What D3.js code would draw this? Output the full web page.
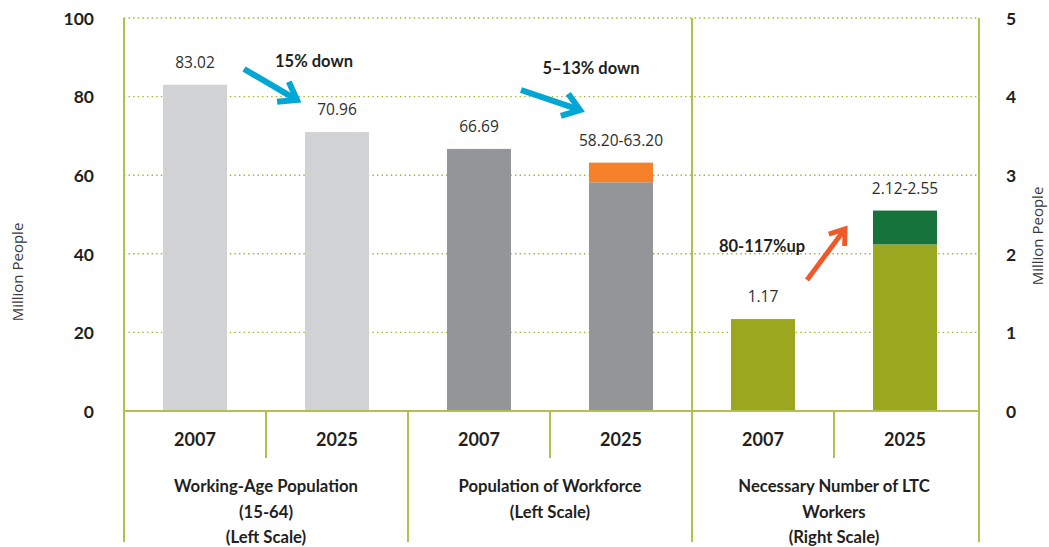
<!DOCTYPE html>
<html>
<head>
<meta charset="utf-8">
<script src="https://cdn.jsdelivr.net/npm/d3@7"></script>
<style>
  html, body { margin: 0; padding: 0; background: #fff; }
  svg { display: block; }
  text { font-family: Lato, "Open Sans", sans-serif; fill: #231f20; }
</style>
</head>
<body>
<svg id="chart" width="1049" height="547"></svg>
<script>
// Groups and the two years shown in each
const groups = [
  ["Working-Age Population", "(15-64)", "(Left Scale)"],
  ["Population of Workforce", "(Left Scale)"],
  ["Necessary Number of LTC", "Workers", "(Right Scale)"]
];
const years = ["2007", "2025"];

// Bar values (millions). Left-scale groups use 0–100, LTC workers use 0–5.
const workingAge = [83.02, 70.96];
const workforceLow = [66.69, 58.20];
const workforceHigh = [66.69, 63.20];
const ltcLow = [1.17, 2.12];
const ltcHigh = [1.17, 2.55];

const valueLabels = ["83.02", "70.96", "66.69", "58.20-63.20", "1.17", "2.12-2.55"];
const leftTicks = [0, 20, 40, 60, 80, 100];
const rightTicks = [0, 1, 2, 3, 4, 5];
const changeNotes = ["15% down", "5–13% down", "80-117%up"];

const svg = d3.select("#chart");
const yTop = 18, base = 411, yBottom = 542;
const xLeft = 124, xRight = 979;

const yL = d3.scaleLinear().domain([0, 100]).range([base, yTop]);
const yR = d3.scaleLinear().domain([0, 5]).range([base, yTop]);

const slots = d3.range(6);
const x = d3.scaleBand().domain(slots).range([xLeft, 976]).paddingInner(0).paddingOuter(0);
const barW = 64;
const cx = i => x(i) + x.bandwidth() / 2;

const gridColor = "#a3b32c";
const lineColor = "#b3c050";
const lightFont = "'Open Sans', 'Noto Sans', sans-serif";

// dotted gridlines
svg.append("g").selectAll("line").data(leftTicks.slice(1)).join("line")
  .attr("x1", xLeft).attr("x2", xRight)
  .attr("y1", d => yL(d)).attr("y2", d => yL(d))
  .attr("stroke", gridColor).attr("stroke-width", 1.4)
  .attr("stroke-dasharray", "1.4,3.2");

// bars
const bars = [];
workingAge.forEach((v, i) => bars.push({ slot: i, y0: 0, y1: v, s: yL, c: "#d1d2d4" }));
workforceLow.forEach((v, i) => bars.push({ slot: 2 + i, y0: 0, y1: v, s: yL, c: "#939598" }));
workforceHigh.forEach((v, i) => { if (v > workforceLow[i]) bars.push({ slot: 2 + i, y0: workforceLow[i], y1: v, s: yL, c: "#f5822a" }); });
ltcLow.forEach((v, i) => bars.push({ slot: 4 + i, y0: 0, y1: v, s: yR, c: "#9ba71f" }));
ltcHigh.forEach((v, i) => { if (v > ltcLow[i]) bars.push({ slot: 4 + i, y0: ltcLow[i], y1: v, s: yR, c: "#17733c" }); });

svg.append("g").selectAll("rect").data(bars).join("rect")
  .attr("x", d => cx(d.slot) - barW / 2)
  .attr("width", barW)
  .attr("y", d => d.s(d.y1))
  .attr("height", d => d.s(d.y0) - d.s(d.y1))
  .attr("fill", d => d.c);

// frame lines
const frame = svg.append("g").attr("stroke", lineColor).attr("stroke-width", 2);
frame.append("line").attr("x1", xLeft).attr("x2", xRight).attr("y1", base).attr("y2", base);
frame.append("line").attr("x1", xLeft).attr("x2", xLeft).attr("y1", yTop).attr("y2", yBottom);
frame.append("line").attr("x1", xRight).attr("x2", xRight).attr("y1", yTop).attr("y2", yBottom);
// between left-scale and right-scale groups
frame.append("line").attr("x1", x(4)).attr("x2", x(4)).attr("y1", yTop).attr("y2", yBottom);
// between the two left-scale groups
frame.append("line").attr("x1", x(2)).attr("x2", x(2)).attr("y1", base).attr("y2", yBottom);
// year separators inside each group
[1, 3, 5].forEach(i => frame.append("line")
  .attr("x1", x(i)).attr("x2", x(i)).attr("y1", base).attr("y2", 458));

// axes
const axL = svg.append("g").attr("transform", `translate(${xLeft - 30},0)`)
  .call(d3.axisLeft(yL).tickValues(leftTicks).tickSize(0).tickPadding(0).tickFormat(d3.format("d")));
const axR = svg.append("g").attr("transform", `translate(${xRight + 27},0)`)
  .call(d3.axisRight(yR).tickValues(rightTicks).tickSize(0).tickPadding(0).tickFormat(d3.format("d")));
[axL, axR].forEach(a => {
  a.select(".domain").remove();
  a.selectAll("text").attr("font-family", "Lato, sans-serif").attr("font-size", 17.5)
    .attr("font-weight", 700).attr("fill", "#231f20").attr("dy", "0.36em");
});

// axis titles
svg.append("text").attr("transform", "translate(23,272) rotate(-90)")
  .attr("text-anchor", "middle").attr("font-size", 15).attr("font-weight", 400)
  .style("font-family", lightFont).style("fill", "#3a3a3a").text("Million People");
svg.append("text").attr("transform", "translate(1043,236) rotate(-90)")
  .attr("text-anchor", "middle").attr("font-size", 15).attr("font-weight", 400)
  .style("font-family", lightFont).style("fill", "#3a3a3a").text("Million People");

// value labels above each bar
const tops = [
  yL(workingAge[0]), yL(workingAge[1]),
  yL(workforceHigh[0]), yL(workforceHigh[1]),
  yR(ltcHigh[0]), yR(ltcHigh[1])
];
svg.append("g").selectAll("text").data(valueLabels).join("text")
  .attr("x", (d, i) => cx(i)).attr("y", (d, i) => tops[i] - 17)
  .attr("text-anchor", "middle").attr("font-size", 15.5).attr("font-weight", 400)
  .style("font-family", lightFont).style("fill", "#2e2e2e").text(d => d);

// year labels
svg.append("g").selectAll("text").data(slots).join("text")
  .attr("x", d => cx(d)).attr("y", 446)
  .attr("text-anchor", "middle").attr("font-size", 18).attr("font-weight", 700)
  .text(d => years[d % 2]);

// group labels
groups.forEach((lines, g) => {
  const t = svg.append("text").attr("text-anchor", "middle")
    .attr("font-size", 16.7).attr("font-weight", 700);
  lines.forEach((ln, k) => t.append("tspan")
    .attr("x", x(g * 2 + 1)).attr("y", 492 + k * 25.5).text(ln));
});

// change annotations
const notePos = [[314, 67], [591, 74], [762, 252]];
changeNotes.forEach((n, i) => svg.append("text")
  .attr("x", notePos[i][0]).attr("y", notePos[i][1])
  .attr("text-anchor", "middle").attr("font-size", 16.5).attr("font-weight", 700).text(n));

function arrow(x1, y1, x2, y2, color, w, head) {
  const a = Math.atan2(y2 - y1, x2 - x1);
  const g = svg.append("g").attr("stroke", color).attr("stroke-width", w)
    .attr("fill", "none").attr("stroke-linecap", "butt").attr("stroke-linejoin", "miter");
  const bx = x2 - Math.cos(a) * w * 0.7, by = y2 - Math.sin(a) * w * 0.7;
  g.append("line").attr("x1", x1).attr("y1", y1).attr("x2", bx).attr("y2", by);
  const p1 = [x2 - head * Math.cos(a - 0.62), y2 - head * Math.sin(a - 0.62)];
  const p2 = [x2 - head * Math.cos(a + 0.62), y2 - head * Math.sin(a + 0.62)];
  g.append("path").attr("d", `M${p1}L${x2},${y2}L${p2}`);
}
arrow(244, 69, 297, 100, "#00a7d4", 6, 20);
arrow(521, 90, 580, 110, "#00a7d4", 6, 20);
arrow(807, 280, 845, 229, "#ef5a2a", 5, 17);
</script>
</body>
</html>
